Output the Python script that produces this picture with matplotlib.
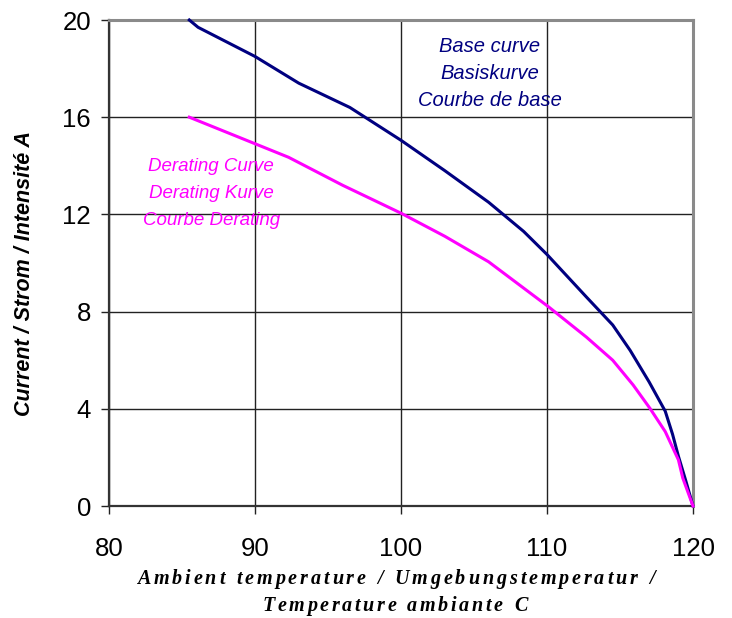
import numpy as np
import matplotlib
matplotlib.use('Agg')
import matplotlib.pyplot as plt

# values
base_t = [85.5, 86.1, 90.0, 93.0, 96.5, 100.0, 103.0, 106.0, 108.4, 110.0,
          112.7, 114.5, 115.7, 117.0, 118.1, 118.6, 119.0, 119.5, 120.0]
base_i = [20.0, 19.7, 18.5, 17.4, 16.4, 15.05, 13.8, 12.5, 11.3, 10.35,
          8.6, 7.45, 6.4, 5.1, 3.9, 2.95, 2.05, 1.05, 0.0]

derating_t = [85.5, 92.3, 96.0, 100.0, 103.0, 106.0, 110.1, 112.7, 114.5,
              115.9, 117.05, 118.1, 119.0, 119.3, 120.0]
derating_i = [16.0, 14.35, 13.2, 12.05, 11.1, 10.05, 8.2, 6.95, 6.0,
              4.98, 4.02, 3.06, 1.9, 1.15, 0.0]

base_labels = ['Base curve', 'Basiskurve', 'Courbe de base']
derating_labels = ['Derating Curve', 'Derating Kurve', 'Courbe Derating']
x_ticks = [80, 90, 100, 110, 120]
y_ticks = [0, 4, 8, 12, 16, 20]
ylabel = 'Current / Strom / Intensité A'
xlabel_lines = ['Ambient temperature / Umgebungstemperatur /',
                'Temperature ambiante C']

NAVY = '#000080'
MAGENTA = '#ff00ff'
W, H = 732, 618

plt.rcParams['font.family'] = ['Liberation Sans', 'DejaVu Sans']

fig = plt.figure(figsize=(W / 100, H / 100), dpi=100)
ax = fig.add_axes([109 / W, 1 - 506 / H, (693 - 109) / W, (506 - 20) / H])

ax.plot(base_t, base_i, color=NAVY, lw=2.2, zorder=3, clip_on=False)
ax.plot(derating_t, derating_i, color=MAGENTA, lw=2.2, zorder=4, clip_on=False)

ax.set_xlim(80, 120)
ax.set_ylim(0, 20)
ax.set_xticks(x_ticks)
ax.set_yticks(y_ticks)
ax.grid(True, color='#222222', lw=1.0)
ax.set_axisbelow(True)
ax.tick_params(direction='out', length=6, width=1, labelsize=18.5, color='#222222')
ax.tick_params(axis='y', pad=7)
ax.tick_params(axis='x', pad=16)

for side in ['left', 'bottom']:
    ax.spines[side].set_color('#333333')
    ax.spines[side].set_linewidth(1.6)
for side in ['top', 'right']:
    ax.spines[side].set_color('#8a8a8a')
    ax.spines[side].set_linewidth(2.2)

for k, s in enumerate(base_labels):
    ax.text(106.1, 18.9 - 1.1 * k, s, color=NAVY, fontsize=14.5, style='italic',
            ha='center', va='center')
for k, s in enumerate(derating_labels):
    ax.text(87.0, 13.96 - 1.1 * k, s, color=MAGENTA, fontsize=13.5, style='italic',
            ha='center', va='center')

fig.text(25 / W, 1 - 274 / H, ylabel, rotation=90, ha='center', va='center',
         fontsize=15.5, fontweight='bold', style='italic')


def tracked_text(s, cx, cy, width, **kw):
    # the original label is drawn with wide letter spacing
    r = fig.canvas.get_renderer()
    ws = []
    for ch in s:
        if ch == ' ':
            ws.append(None)
            continue
        t = fig.text(0, 0, ch, **kw)
        ws.append(t.get_window_extent(r).width)
        t.remove()
    gap = kw['fontsize'] * 100 / 72 * 0.3
    ink = sum(w if w is not None else gap for w in ws)
    track = (width - ink) / (len(s) - 1)
    x = cx - width / 2
    for ch, w in zip(s, ws):
        if w is None:
            x += gap + track
            continue
        fig.text(x / W, 1 - cy / H, ch, ha='left', va='center', **kw)
        x += w + track


fig.canvas.draw()
xkw = dict(fontsize=14.5, fontweight='bold', style='italic',
           family=['Liberation Serif', 'DejaVu Serif'])
tracked_text(xlabel_lines[0], 396, 579, 518, **xkw)
tracked_text(xlabel_lines[1], 395, 606, 265, **xkw)

fig.savefig('out.png', dpi=100)
